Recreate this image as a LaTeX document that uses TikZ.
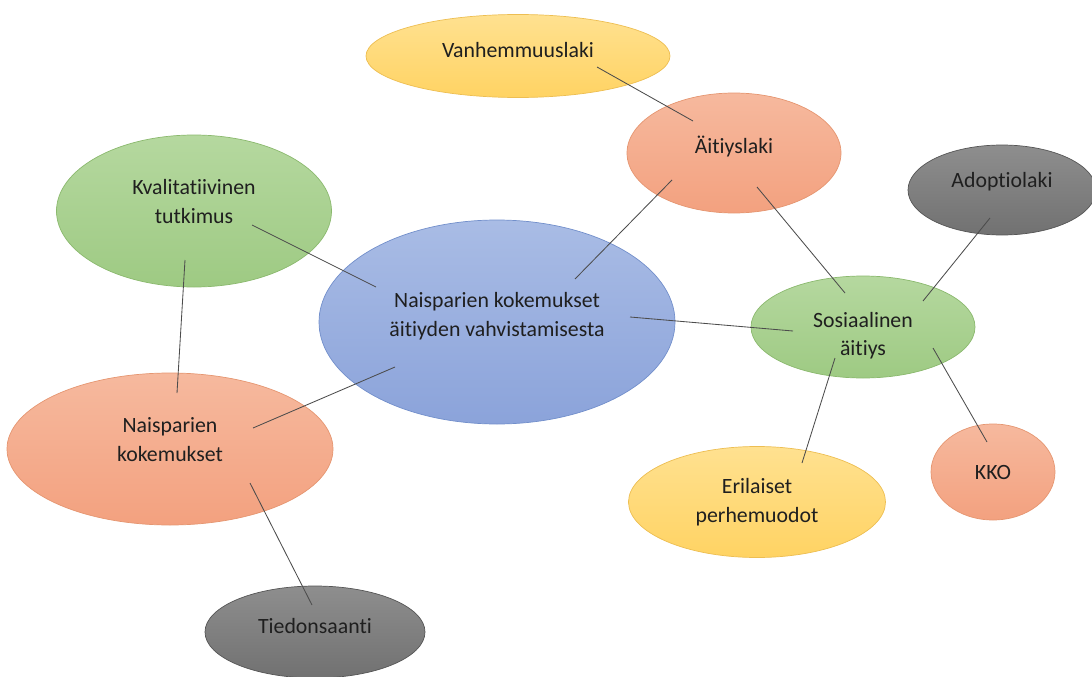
\documentclass[tikz,border=0pt]{standalone}
\usepackage{fontspec}
\setmainfont{Carlito}[Ligatures=NoCommon]
\usetikzlibrary{shapes.geometric}

\definecolor{goldtop}{HTML}{FFE190}
\definecolor{goldbot}{HTML}{FFD363}
\definecolor{goldline}{HTML}{EDBE52}
\definecolor{salmontop}{HTML}{F6B99E}
\definecolor{salmonbot}{HTML}{F3A17F}
\definecolor{salmonline}{HTML}{E59671}
\definecolor{leaftop}{HTML}{B5D89F}
\definecolor{leafbot}{HTML}{9ECA83}
\definecolor{leafline}{HTML}{8BB96E}
\definecolor{skytop}{HTML}{A9BCE5}
\definecolor{skybot}{HTML}{8BA3DA}
\definecolor{skyline}{HTML}{728FCB}
\definecolor{slatetop}{HTML}{8E8E8E}
\definecolor{slatebot}{HTML}{717171}
\definecolor{slateline}{HTML}{555555}

% invisible struts to move a label up (depth) or down (height)
\newcommand\textlift[1]{\rule[-#1]{0pt}{#1}}
\newcommand\textdrop[1]{\rule{0pt}{#1}}

\begin{document}
\begin{tikzpicture}[
	x=0.025cm, y=-0.025cm,
	every node/.style={font=\fontsize{15.5}{20.5}\selectfont, text=black!88},
	bubble/.style={ellipse, inner sep=0pt, align=center, line width=0.5pt},
	dims/.style 2 args={minimum width=#1*0.025cm, minimum height=#2*0.025cm},
	gold/.style={bubble, top color=goldtop, bottom color=goldbot, draw=goldline},
	salmon/.style={bubble, top color=salmontop, bottom color=salmonbot, draw=salmonline},
	leaf/.style={bubble, top color=leaftop, bottom color=leafbot, draw=leafline},
	sky/.style={bubble, top color=skytop, bottom color=skybot, draw=skyline},
	slate/.style={bubble, top color=slatetop, bottom color=slatebot, draw=slateline},
	link/.style={draw=black!70, line width=0.6pt},
	]
	\useasboundingbox (0,0) rectangle (1092,677);

	% ellipses
	\node[gold, dims={304}{83}] (vanh) at (518,56) {Vanhemmuuslaki\textlift{8.5pt}};
	\node[salmon, dims={214}{120}] (aiti) at (734,153) {Äitiyslaki\textlift{12pt}};
	\node[leaf, dims={275}{152}] (kval) at (194,211) {Kvalitatiivinen\\tutkimus\textlift{14pt}};
	\node[sky, dims={356}{204}] (main) at (497,322) {Naisparien kokemukset\\äitiyden vahvistamisesta\textlift{10.5pt}};
	\node[slate, dims={188}{90}] (adop) at (1002,190) {Adoptiolaki\textlift{14.5pt}};
	\node[leaf, dims={224}{102}] (sos) at (863,327) {\textdrop{23pt}Sosiaalinen\\äitiys};
	\node[salmon, dims={326}{152}] (naisk) at (170,449) {Naisparien\\kokemukset\textlift{14pt}};
	\node[salmon, dims={124}{96}] (kko) at (993,472) {KKO};
	\node[gold, dims={257}{111}] (eril) at (757,502) {Erilaiset\\perhemuodot};
	\node[slate, dims={220}{92}] (tied) at (315,632) {Tiedonsaanti\textlift{8.5pt}};

	% connectors
	\draw[link] ([shift={(79,11)}]vanh.center) -- ([shift={(-41,-32)}]aiti.center);
	\draw[link] ([shift={(-62,27)}]aiti.center) -- ([shift={(78,-43)}]main.center);
	\draw[link] ([shift={(23,34)}]aiti.center) -- ([shift={(-18,-34)}]sos.center);
	\draw[link] ([shift={(58,14)}]kval.center) -- ([shift={(-121,-35)}]main.center);
	\draw[link] ([shift={(-9,49)}]kval.center) -- ([shift={(7,-56)}]naisk.center);
	\draw[link] ([shift={(133,-5)}]main.center) -- ([shift={(-70,4)}]sos.center);
	\draw[link] ([shift={(83,-21)}]naisk.center) -- ([shift={(-102,45)}]main.center);
	\draw[link] ([shift={(-12,28)}]adop.center) -- ([shift={(60,-26)}]sos.center);
	\draw[link] ([shift={(-28,31)}]sos.center) -- ([shift={(45,-39)}]eril.center);
	\draw[link] ([shift={(70,21)}]sos.center) -- ([shift={(-6,-30)}]kko.center);
	\draw[link] ([shift={(80,34)}]naisk.center) -- ([shift={(-3,-27)}]tied.center);
\end{tikzpicture}
\end{document}
